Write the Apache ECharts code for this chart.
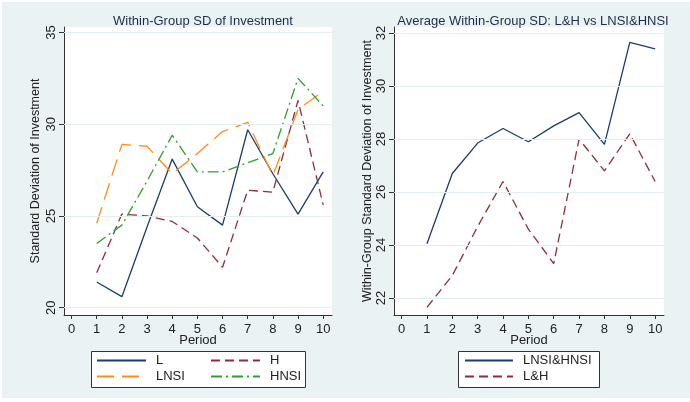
<!DOCTYPE html>
<html><head><meta charset="utf-8">
<script src="https://cdn.jsdelivr.net/npm/echarts@6/dist/echarts.min.js"></script>
<style>html,body{margin:0;padding:0;background:#fff}#c{width:690px;height:402px}</style>
</head><body><div id="c"></div>
<script>
const periods = [1,2,3,4,5,6,7,8,9,10];
const xTicks = [0,1,2,3,4,5,6,7,8,9,10];
const L    = [21.4, 20.6, 24.4, 28.1, 25.5, 24.5, 29.7, 27.3, 25.1, 27.4];
const H    = [21.9, 25.1, 25.0, 24.7, 23.8, 22.2, 26.4, 26.3, 31.3, 25.6];
const LNSI = [24.6, 28.9, 28.8, 27.3, 28.4, 29.6, 30.1, 27.2, 30.8, 31.8];
const HNSI = [23.5, 24.5, 26.9, 29.4, 27.4, 27.4, 27.9, 28.4, 32.5, 31.0];
const NSI_avg = [24.05, 26.7, 27.85, 28.4, 27.9, 28.5, 29.0, 27.8, 31.65, 31.4];
const LH_avg  = [21.65, 22.85, 24.7, 26.4, 24.6, 23.3, 28.0, 26.8, 28.2, 26.4];
const leftYTicks = [20, 25, 30, 35];
const rightYTicks = [22, 24, 26, 28, 30, 32];

const FONT = '"Liberation Sans", Arial, sans-serif';
const TXT = '#222';
const NAVY = '#1a3d6d', MAROON = '#8c2d3c', ORANGE = '#ff8c1a', GREEN = '#2e9e2e';
const pairs = a => a.map((v,i)=>[periods[i], v]);

function lineSeries(name, data, color, type, gi) {
  return { name, type:'line', xAxisIndex:gi, yAxisIndex:gi, data:pairs(data), symbol:'none',
    lineStyle:{color, width:1.3, type}, itemStyle:{color}, z:3, animation:false };
}
function gridSeries(gi, ticks) {
  return { type:'line', xAxisIndex:gi, yAxisIndex:gi, data:[], silent:true, z:1, animation:false,
    markLine:{ silent:true, symbol:'none', label:{show:false}, animation:false,
      lineStyle:{color:'#e4eef0', width:1, type:'solid'},
      data: ticks.map(t=>({yAxis:t})) } };
}
function xAx(gi) {
  return { gridIndex:gi, type:'value', min:-0.3, max:10.35,
    name:'Period', nameLocation:'middle', nameGap:19, nameMoveOverlap:false,
    nameTextStyle:{fontFamily:FONT, fontSize:13, color:TXT},
    axisLine:{show:true, onZero:false, lineStyle:{color:'#333', width:1}},
    axisTick:{show:true, customValues:xTicks, length:4, lineStyle:{color:'#333'}},
    axisLabel:{customValues:xTicks, fontFamily:FONT, fontSize:13, color:TXT, margin:8},
    splitLine:{show:false} };
}
function yAx(gi, min, max, ticks, name, gap) {
  return { gridIndex:gi, type:'value', min, max,
    name, nameLocation:'middle', nameGap:gap,
    nameTextStyle:{fontFamily:FONT, fontSize:12.5, color:TXT},
    axisLine:{show:true, onZero:false, lineStyle:{color:'#333', width:1}},
    axisTick:{show:true, customValues:ticks, length:5, lineStyle:{color:'#333'}},
    axisLabel:{customValues:ticks, rotate:90, fontFamily:FONT, fontSize:13, color:TXT, margin:6},
    splitLine:{show:false} };
}
function legendItem(name, left, top, w) {
  return { data:[name], left, top, orient:'horizontal', itemWidth:w, itemHeight:10, padding:0,
    itemStyle:{opacity:0}, selectedMode:false,
    textStyle:{fontFamily:FONT, fontSize:13, color:TXT, padding:[0,0,0,5]} };
}

const chart = echarts.init(document.getElementById('c'), null, {renderer:'canvas'});
chart.setOption({
  animation:false,
  graphic:[
    {type:'rect', shape:{x:2,y:2,width:688,height:396}, style:{fill:'#eaf2f3'}, z:-10, silent:true},
    {type:'rect', shape:{x:91.5,y:351.5,width:214,height:36}, style:{fill:'#fff', stroke:'#333', lineWidth:1}, z:-5, silent:true},
    {type:'rect', shape:{x:458.5,y:351.5,width:141,height:36}, style:{fill:'#fff', stroke:'#333', lineWidth:1}, z:-5, silent:true}
  ],
  title:[
    {text:'Within-Group SD of Investment', left:198, top:10, textAlign:'center',
     textStyle:{fontFamily:FONT, fontSize:13, fontWeight:'normal', color:'#1d2c4c'}},
    {text:'Average Within-Group SD: L&H vs LNSI&HNSI', left:528, top:10, textAlign:'center',
     textStyle:{fontFamily:FONT, fontSize:13, fontWeight:'normal', color:'#1d2c4c'}}
  ],
  grid:[
    {left:64, right:358, top:27, bottom:87, show:true, backgroundColor:'#fff', borderWidth:0},
    {left:394, right:26, top:27, bottom:87, show:true, backgroundColor:'#fff', borderWidth:0}
  ],
  xAxis:[xAx(0), xAx(1)],
  yAxis:[
    yAx(0, 19.6, 35.3, leftYTicks, 'Standard Deviation of Investment', 22),
    yAx(1, 21.36, 32.23, rightYTicks, 'Within-Group Standard Deviation of Investment', 20)
  ],
  legend:[
    legendItem('L', 96, 354, 49),
    legendItem('H', 210, 354, 49),
    legendItem('LNSI', 96, 370, 49),
    legendItem('HNSI', 210, 370, 49),
    legendItem('LNSI&HNSI', 464, 354, 48),
    legendItem('L&H', 464, 370, 48)
  ],
  series:[
    gridSeries(0, leftYTicks),
    gridSeries(1, rightYTicks),
    lineSeries('L', L, NAVY, 'solid', 0),
    lineSeries('H', H, MAROON, [9,5], 0),
    lineSeries('LNSI', LNSI, ORANGE, [17,8], 0),
    lineSeries('HNSI', HNSI, GREEN, [11,4,2,4], 0),
    lineSeries('LNSI&HNSI', NSI_avg, NAVY, 'solid', 1),
    lineSeries('L&H', LH_avg, MAROON, [9,5], 1)
  ]
});
</script></body></html>
